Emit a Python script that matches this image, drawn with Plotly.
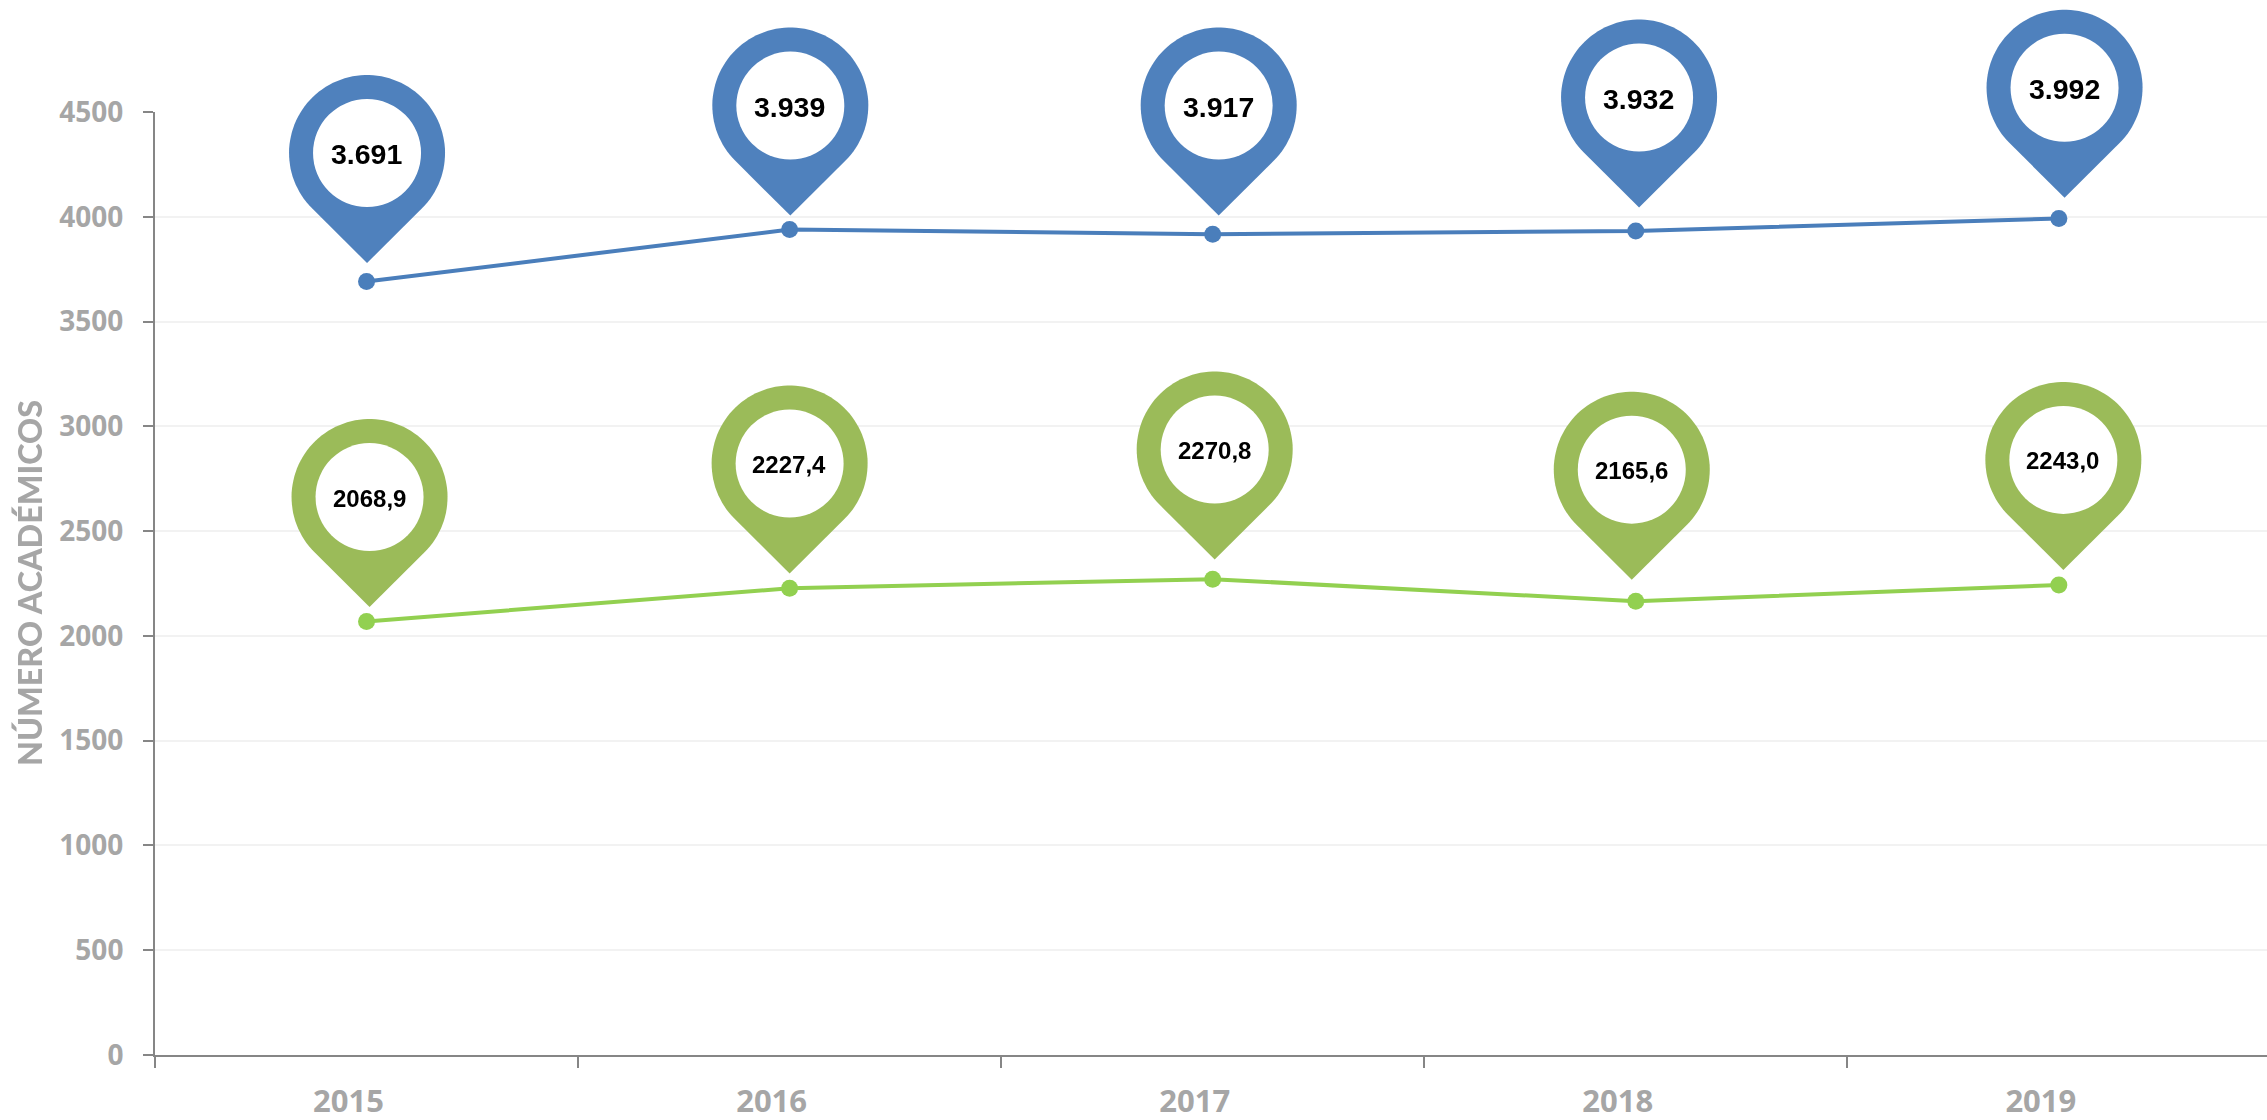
import numpy as np
import plotly.graph_objects as go

# ---- data ----
YEARS = ["2015", "2016", "2017", "2018", "2019"]
BLUE_VALUES = [3691, 3939, 3917, 3932, 3992]
GREEN_VALUES = [2068.9, 2227.4, 2270.8, 2165.6, 2243.0]
BLUE_LABELS = ["3.691", "3.939", "3.917", "3.932", "3.992"]
GREEN_LABELS = ["2068,9", "2227,4", "2270,8", "2165,6", "2243,0"]
Y_TICKS = [0, 500, 1000, 1500, 2000, 2500, 3000, 3500, 4000, 4500]
Y_TITLE = "NÚMERO ACADÉMICOS"

# ---- styling ----
W, H = 2267, 1120
L, R, T, B = 155, 0, 0, 65
Y_TOP_PX = 112                      # pixel row of the 4500 gridline
Y_MAX = 4500
BLUE_LINE, BLUE_PIN = "#4A7EBB", "#4F81BD"
GREEN_LINE, GREEN_PIN = "#92D050", "#9BBB59"
AXIS = "#868686"
GRID = "#F2F2F2"
TICK_TXT = "#A6A6A6"
PIN_R, PIN_HOLE, PIN_TIP = 78, 54, 110
# pin centre offset from its data point, in screen pixels (dx right, dy up)
BLUE_OFFS = [(0.5, 128.5), (0.7, 124), (6, 128.6), (3.3, 133.5), (5.7, 130.7)]
GREEN_OFFS = [(3, 124.4), (0, 124.7), (2, 129.6), (-4, 131.5), (4.5, 125)]

plot_h = H - T - B
main_frac = (plot_h - Y_TOP_PX) / plot_h

fig = go.Figure()
for vals, col, name in [(BLUE_VALUES, BLUE_LINE, "a"), (GREEN_VALUES, GREEN_LINE, "b")]:
    fig.add_trace(go.Scatter(x=YEARS, y=vals, mode="lines+markers", name=name,
                             line=dict(color=col, width=4),
                             marker=dict(color=col, size=17), showlegend=False))
# hidden twin y axis with the same scale but reaching the top of the page,
# so that the pins above the 4500 line are not clipped
fig.add_trace(go.Scatter(x=YEARS, y=BLUE_VALUES, yaxis="y2", mode="markers", opacity=0,
                         hoverinfo="skip", showlegend=False))

th = np.arccos(PIN_R / PIN_TIP)
ang = np.linspace(np.pi / 2 + th, np.pi * 2.5 - th, 90)   # round part, y down


def pin_path(dx, dy):
    pts = [(dx + PIN_R * np.cos(a), -dy + PIN_R * np.sin(a)) for a in ang]
    pts.append((dx, -dy + PIN_TIP))
    # plotly pixel paths: y grows upward
    return "M" + "L".join(f"{px:.1f},{-py:.1f}" for px, py in pts) + "Z"


def add_pins(vals, labels, offs, col, fsize):
    # category index is used for the anchors: a year string would be read as a number
    for i, (v, lab, (dx, dy)) in enumerate(zip(vals, labels, offs)):
        fig.add_shape(type="path", path=pin_path(dx, dy), xref="x", yref="y2",
                      xsizemode="pixel", ysizemode="pixel", xanchor=i, yanchor=v,
                      fillcolor=col, line=dict(width=0), layer="above")
        fig.add_shape(type="circle", xref="x", yref="y2", xsizemode="pixel", ysizemode="pixel",
                      xanchor=i, yanchor=v,
                      x0=dx - PIN_HOLE, x1=dx + PIN_HOLE, y0=dy - PIN_HOLE, y1=dy + PIN_HOLE,
                      fillcolor="white", line=dict(width=0), layer="above")
        fig.add_annotation(x=i, y=v, yref="y2", text=lab, showarrow=False, xshift=dx - 0.5, yshift=dy - 1,
                           font=dict(family="Liberation Sans", size=fsize, color="black", weight=700))


add_pins(BLUE_VALUES, BLUE_LABELS, BLUE_OFFS, BLUE_PIN, 28.5)
add_pins(GREEN_VALUES, GREEN_LABELS, GREEN_OFFS, GREEN_PIN, 24)

y_font = dict(family="Open Sans", size=28, color=TICK_TXT, weight=700)
x_font = dict(family="Open Sans", size=31, color=TICK_TXT, weight=700)
title_font = dict(family="Lato", size=32.3, color=TICK_TXT, weight=900)

# axis title: placed by hand because it sits further left than the axis title standoff allows
fig.add_annotation(xref="paper", x=0, xanchor="center", xshift=29.5 - L,
                   yref="y", y=Y_MAX / 2, yanchor="middle", textangle=-90,
                   text=Y_TITLE, showarrow=False, font=title_font)

fig.update_layout(
    width=W, height=H, autosize=False,
    margin=dict(l=L, r=R, t=T, b=B, pad=0),
    paper_bgcolor="white", plot_bgcolor="rgba(0,0,0,0)",
    showlegend=False,
    xaxis=dict(type="category", categoryorder="array", categoryarray=YEARS, automargin=False,
               range=[-0.5, 4.492], tickson="boundaries", ticks="outside", ticklen=11, tickwidth=2,
               tickcolor=AXIS, showline=True, linecolor=AXIS, linewidth=2, showgrid=False,
               tickfont=x_font, ticklabelshift=-18, ticklabelstandoff=18, zeroline=False),
    yaxis=dict(range=[0, Y_MAX], domain=[0, main_frac], tickvals=Y_TICKS, ticks="outside", ticklen=10,
               tickwidth=2, tickcolor=AXIS, showline=True, linecolor=AXIS, linewidth=2, automargin=False,
               showgrid=True, gridcolor=GRID, gridwidth=2, zeroline=False,
               tickfont=y_font, ticklabelstandoff=14),
    yaxis2=dict(range=[0, Y_MAX / main_frac], domain=[0, 1], visible=False, anchor="x",
                showgrid=False, zeroline=False, automargin=False),
)

fig.write_html("out.html", config={"displayModeBar": False},
               post_script="document.body.style.margin='0';document.documentElement.style.overflow='hidden';")
